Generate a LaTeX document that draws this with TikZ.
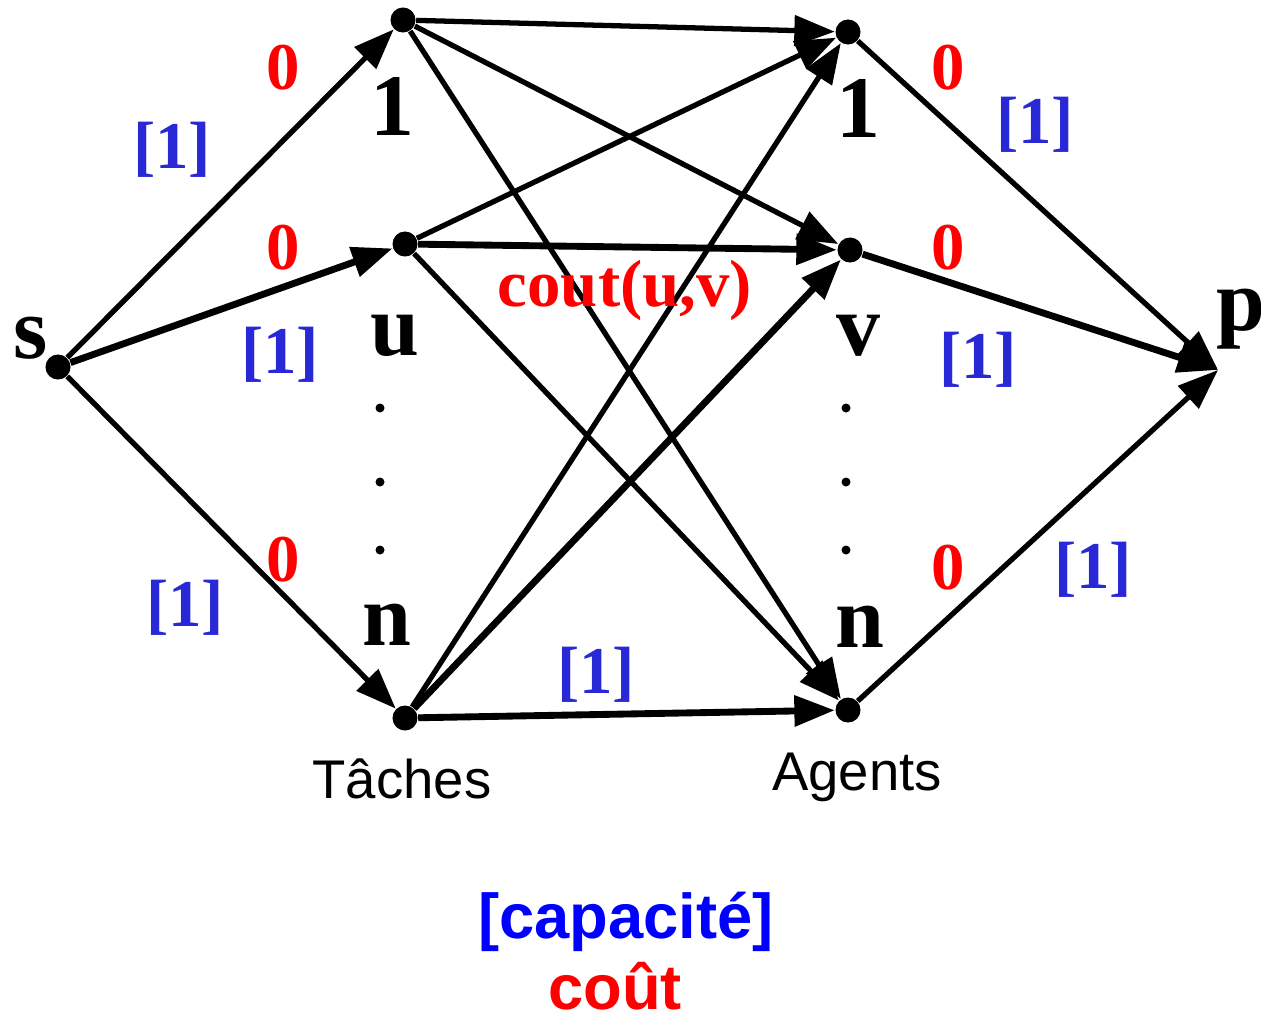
\documentclass[tikz,border=0pt]{standalone}
\usepackage{fontspec}
\setmainfont{Liberation Serif}
\setsansfont{Liberation Sans}
\usetikzlibrary{arrows.meta}
\definecolor{capblue}{RGB}{40,40,215}
\definecolor{legblue}{RGB}{0,0,255}
\begin{document}
\begin{tikzpicture}[x=0.01cm,y=-0.01cm,
  vertex/.style={circle,fill=black,inner sep=0pt,minimum size=0.25cm},
  smalldot/.style={circle,fill=black,inner sep=0pt,minimum size=0.09cm},
  edge/.style={line width=1.5pt,-{Triangle[length=11.5pt,width=8.5pt]}},
  thickedge/.style={edge,line width=1.95pt},
  lbl/.style={font=\fontsize{25}{25}\selectfont\bfseries,inner sep=0pt},
  cost/.style={text=red,font=\fontsize{19}{19}\selectfont\bfseries,inner sep=0pt},
  capa/.style={text=capblue,font=\fontsize{19}{19}\selectfont\bfseries,inner sep=0pt},
  side/.style={font=\sffamily\fontsize{15.5}{15.5}\selectfont,inner sep=0pt},
  legend/.style={font=\sffamily\bfseries\fontsize{18}{18}\selectfont,inner sep=0pt}]
\useasboundingbox (0,0) rectangle (1261,1021);

% vertices
\node[vertex] (s) at (58,367) {};
\node[vertex] (t1) at (403,20) {};
\node[vertex] (tu) at (405,244) {};
\node[vertex] (tn) at (405,718) {};
\node[vertex] (a1) at (848,32) {};
\node[vertex] (av) at (850,250) {};
\node[vertex] (an) at (848,710) {};
\coordinate (p) at (1218,370);

% edges
\draw[edge] (s) -- (t1);
\draw[thickedge] (s) -- (tu);
\draw[edge] (s) -- (tn);
\draw[edge] (t1) -- (a1);
\draw[edge] (t1) -- (av);
\draw[edge] (t1) -- (an);
\draw[edge] (tu) -- (a1);
\draw[thickedge] (tu) -- (av);
\draw[edge] (tu) -- (an);
\draw[edge] (tn) -- (a1);
\draw[thickedge] (tn) -- (av);
\draw[thickedge] (tn) -- (an);
\draw[edge] (a1) -- (p);
\draw[thickedge] (av) -- (p);
\draw[edge] (an) -- (p);

% vertex labels
\node[lbl] (ls) at (31,338) {s};
\node[lbl] (l1) at (392,106) {1};
\node[lbl] (lu) at (395,336) {u};
\node[lbl] (ln) at (387,625) {n};
\node[lbl] (r1) at (858,108) {1};
\node[lbl] (rv) at (858,336) {v};
\node[lbl] (rn) at (860,627) {n};
\node[lbl] (lp) at (1241,319) {p};

% ellipsis dots
\node[smalldot] (d1) at (380,408) {};
\node[smalldot] (d2) at (380,482) {};
\node[smalldot] (d3) at (380,550) {};
\node[smalldot] (e1) at (846,408) {};
\node[smalldot] (e2) at (846,482) {};
\node[smalldot] (e3) at (846,550) {};

% costs
\node[cost] (c1) at (283,68) {0};
\node[cost] (c2) at (283,248) {0};
\node[cost] (c3) at (283,560) {0};
\node[cost] (c4) at (948,68) {0};
\node[cost] (c5) at (948,248) {0};
\node[cost] (c6) at (948,568) {0};
\node[cost] (cuv) at (625,290) {cout(u,v)};

% capacities
\node[capa] (k1) at (172,150) {[1]};
\node[capa] (k2) at (280,355) {[1]};
\node[capa] (k3) at (185,608) {[1]};
\node[capa] (k4) at (1035,125) {[1]};
\node[capa] (k5) at (978,360) {[1]};
\node[capa] (k6) at (1093,570) {[1]};
\node[capa] (k7) at (596,675) {[1]};

% side labels
\node[side] (taches) at (402,779) {Tâches};
\node[side] (agents) at (857,777) {Agents};

% legend
\node[legend,text=legblue] (leg1) at (626,922) {[capacité]};
\node[legend,text=red] (leg2) at (615,986) {coût};
\end{tikzpicture}
\end{document}
